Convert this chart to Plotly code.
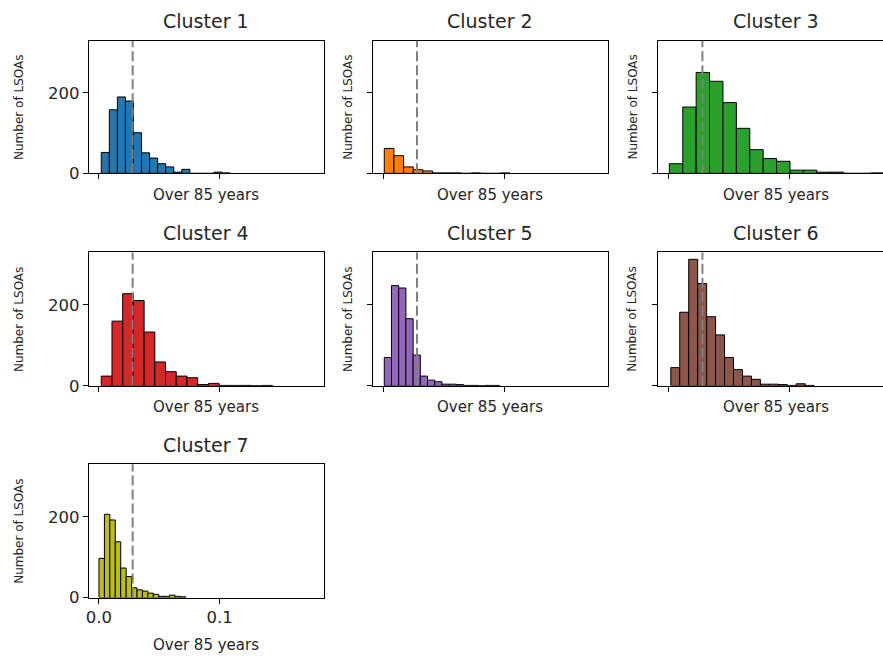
import plotly.graph_objects as go

# Histogram of the share of residents aged over 85, per cluster of LSOAs
cluster_names = ["Cluster 1", "Cluster 2", "Cluster 3", "Cluster 4",
                 "Cluster 5", "Cluster 6", "Cluster 7"]
cluster_colors = ["#1f77b4", "#ff7f0e", "#2ca02c", "#d62728",
                  "#9467bd", "#8c564b", "#bcbd22"]

# left edge of the first bin and bin width for each cluster
bin_start = [0.0019, 0.0008, 0.0005, 0.0019, 0.0008, 0.0017, 0.0000]
bin_width = [0.00667, 0.0080, 0.0111, 0.00887, 0.00597, 0.00742, 0.0045]

counts_c1 = [52, 158, 190, 180, 101, 51, 38, 24, 16, 3, 10, 0, 0, 0, 3, 1]
counts_c2 = [62, 44, 16, 9, 6, 1, 1, 1, 0, 1, 0, 0, 1]
counts_c3 = [24, 165, 251, 229, 176, 112, 59, 37, 30, 8, 8, 3, 3, 0, 0, 1]
counts_c4 = [24, 160, 228, 211, 133, 59, 35, 24, 20, 3, 6, 1, 1, 1, 0, 1]
counts_c5 = [70, 248, 242, 166, 76, 24, 14, 10, 4, 4, 3, 1, 1, 0, 1, 1]
counts_c6 = [45, 182, 313, 253, 171, 126, 70, 40, 24, 16, 4, 4, 3, 1, 5, 1]
counts_c7 = [97, 206, 192, 138, 73, 52, 24, 19, 16, 11, 8, 3, 3, 6, 3, 2]
cluster_counts = [counts_c1, counts_c2, counts_c3, counts_c4,
                  counts_c5, counts_c6, counts_c7]

overall_mean = 0.0279          # mean share over all LSOAs
x_tick_values = [0.0, 0.1]
x_tick_labels = ["0.0", "0.1"]
y_tick_values = [0, 200]
y_tick_labels = ["0", "200"]

W, H = 883, 664
FONT = "DejaVu Sans"

col_px = [(86.0, 321.7), (371.3, 606.7), (657.7, 883.0)]
row_px = [(41.3, 176.0), (256.3, 391.7), (471.3, 606.7)]
px_per_unit = 1211.8
x_lo = -0.0085
full_w = col_px[0][1] - col_px[0][0]


def fx(p):
    return p / W


def fy(p):
    return 1 - p / H


fig = go.Figure()
annotations = []
shapes = []

for i, name in enumerate(cluster_names):
    r, c = divmod(i, 3)
    n = i + 1
    xa = "x" if n == 1 else f"x{n}"
    ya = "y" if n == 1 else f"y{n}"
    x0p, x1p = col_px[c]
    y0p, y1p = row_px[r]

    counts = cluster_counts[i]
    w = bin_width[i]
    centers = [bin_start[i] + w * (k + 0.5) for k in range(len(counts))]
    fig.add_trace(go.Bar(
        x=centers, y=counts, width=w,
        marker=dict(color=cluster_colors[i], line=dict(color="black", width=1)),
        xaxis=xa, yaxis=ya, showlegend=False, hoverinfo="x+y",
    ))

    x_hi = x_lo + (x1p - x0p) / px_per_unit
    bottom_row = (i == 6)
    fig.update_layout(**{
        ("xaxis" if n == 1 else f"xaxis{n}"): dict(
            domain=[fx(x0p), fx(x1p)], anchor=ya, range=[x_lo, x_hi],
            showline=True, linecolor="black", linewidth=1, mirror=True,
            ticks="outside", ticklen=5, tickcolor="black", tickwidth=1,
            tickvals=x_tick_values, ticktext=x_tick_labels,
            showticklabels=bottom_row, showgrid=False, zeroline=False,
            tickfont=dict(family=FONT, size=16.5, color="#262626"),
        ),
        ("yaxis" if n == 1 else f"yaxis{n}"): dict(
            domain=[fy(y1p), fy(y0p)], anchor=xa, range=[0, 330],
            showline=True, linecolor="black", linewidth=1,
            mirror=(c != 2),
            ticks="outside", ticklen=5, tickcolor="black", tickwidth=1,
            tickvals=y_tick_values, ticktext=y_tick_labels,
            showticklabels=(c == 0), showgrid=False, zeroline=False,
            tickfont=dict(family=FONT, size=16.5, color="#262626"),
        ),
    })

    # overall mean marker
    shapes.append(dict(
        type="line", xref=xa, yref=f"{ya} domain",
        x0=overall_mean, x1=overall_mean, y0=0, y1=1,
        line=dict(color="gray", width=2, dash="10px,4px"), layer="above",
    ))

    # subplot title
    annotations.append(dict(
        text=name, x=fx(x0p + full_w / 2), y=fy(21.7 + 215 * r),
        xref="paper", yref="paper", showarrow=False,
        xanchor="center", yanchor="middle",
        font=dict(family=FONT, size=19, color="#262626"),
    ))
    # x label
    xl_y = 655.0 if bottom_row else 198.0 + 215 * r
    annotations.append(dict(
        text="Over 85 years", x=fx(x0p + full_w / 2), y=fy(xl_y),
        xref="paper", yref="paper", showarrow=False,
        xanchor="center", yanchor="middle",
        font=dict(family=FONT, size=15, color="#262626"),
    ))
    # y label
    yl_x = [16.0, 346.0, 631.7][c]
    annotations.append(dict(
        text="Number of LSOAs", x=fx(yl_x), y=fy((y0p + y1p) / 2),
        xref="paper", yref="paper", showarrow=False, textangle=-90,
        xanchor="center", yanchor="middle",
        font=dict(family=FONT, size=12, color="#262626"),
    ))

fig.update_layout(
    width=W, height=H, margin=dict(l=0, r=0, t=0, b=0),
    paper_bgcolor="white", plot_bgcolor="white",
    annotations=annotations, shapes=shapes, barmode="overlay",
)

fig.write_html("out.html")
